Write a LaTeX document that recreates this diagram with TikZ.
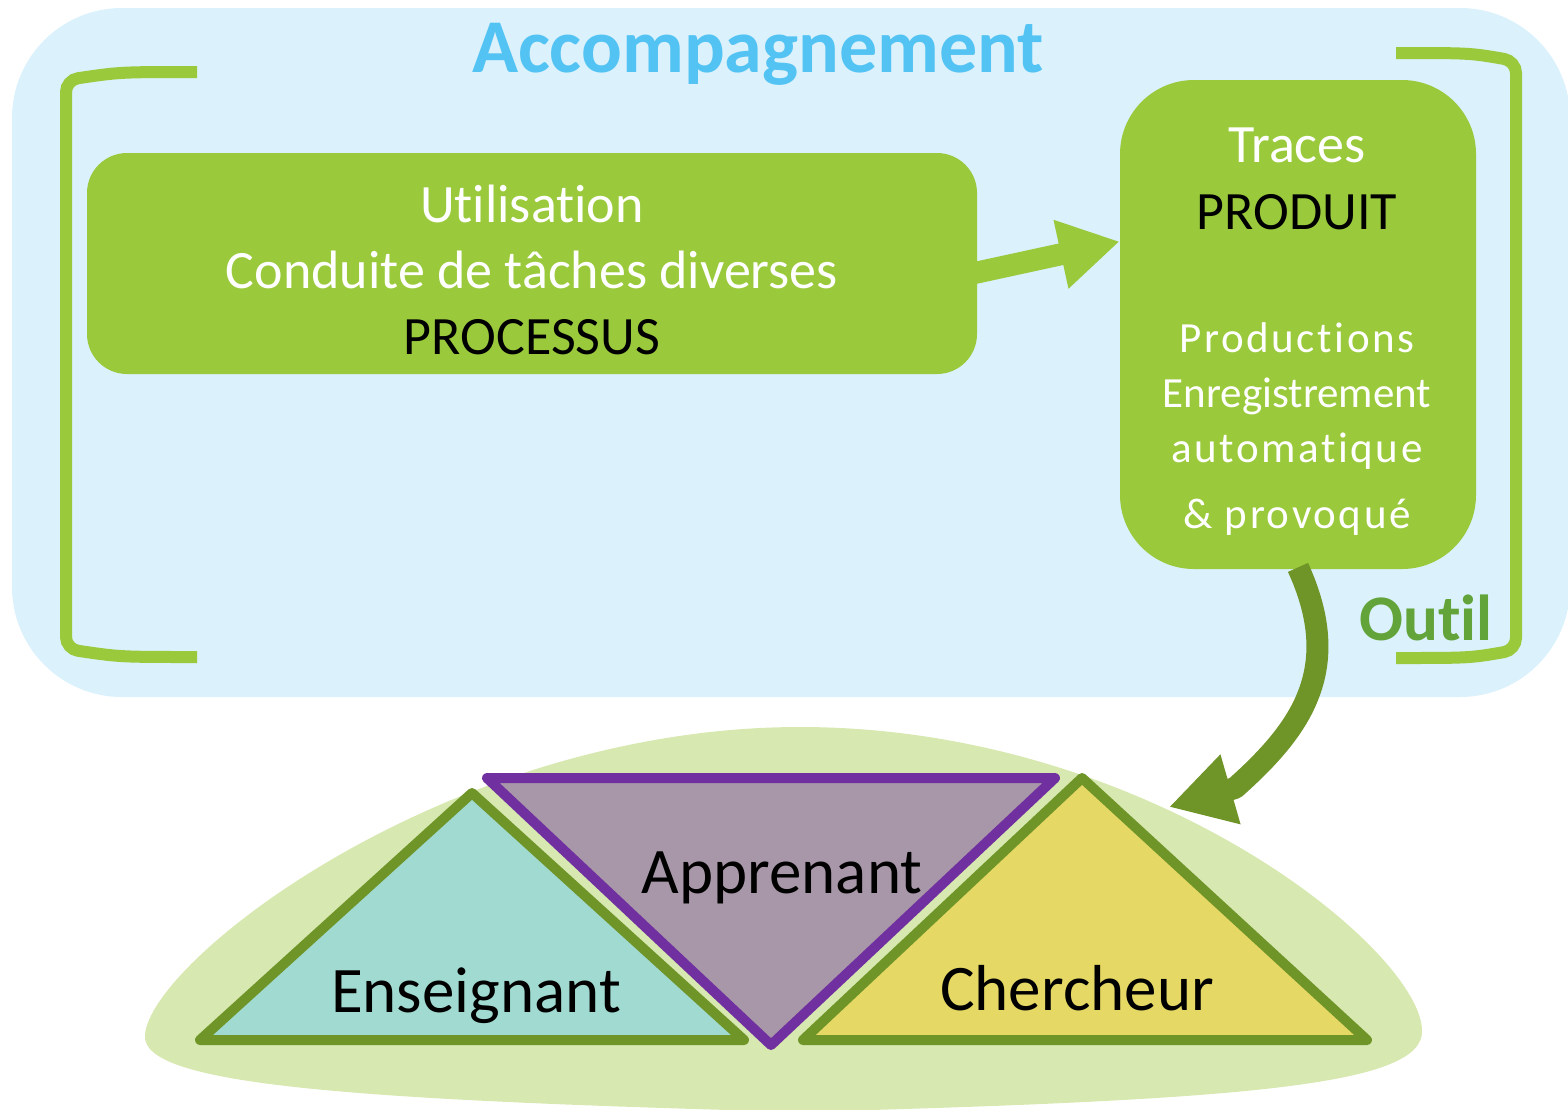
\documentclass[tikz,border=0pt]{standalone}
\usepackage{fontspec}
\setmainfont{Carlito}[Ligatures=NoCommon]
\usetikzlibrary{arrows.meta,calc}
\definecolor{leaf}{HTML}{9ACA3C}
\definecolor{moss}{HTML}{6F9428}
\definecolor{skyback}{HTML}{DBF1FC}
\definecolor{skytitle}{HTML}{53C3F3}
\definecolor{outilgreen}{HTML}{62A43A}
\definecolor{hill}{HTML}{D7E8B0}
\definecolor{lagoon}{HTML}{A0DAD0}
\definecolor{mauve}{HTML}{A897A8}
\definecolor{plum}{HTML}{7030A0}
\definecolor{sand}{HTML}{E5D864}
\begin{document}
\begin{tikzpicture}[x=0.5pt,y=-0.5pt,
  box/.style={fill=leaf, rounded corners=#1},
  bracket/.style={draw=leaf, line width=6pt, rounded corners=6pt},
  tri/.style={draw=moss, line width=5pt, line join=round},
  lab/.style={anchor=base, font=\fontsize{32.5}{39}\selectfont},
  txt/.style={text=white, align=center}]
  \useasboundingbox (0,0) rectangle (1568,1109);
  % fonds
  \fill[skyback, rounded corners=55pt] (12,8) rectangle (1570,697);
  \fill[hill] (800,727) .. controls (1150,727) and (1420,950) .. (1422,1030)
    .. controls (1425,1085) and (1250,1100) .. (800,1112)
    .. controls (350,1100) and (140,1085) .. (145,1035)
    .. controls (150,960) and (450,727) .. (800,727);
  \draw[bracket] (197,72) .. controls (120,72) .. (66,80) -- (66,649) .. controls (120,657) .. (197,657);
  \draw[bracket] (1396,53) .. controls (1470,53) .. (1516,61) -- (1516,650) .. controls (1470,658) .. (1396,658);
  \node[anchor=base, text=skytitle, font=\bfseries\fontsize{38}{46}\selectfont] (accomp) at (758,72) {Accompagnement};
  \node[anchor=base, text=outilgreen, font=\bfseries\fontsize{32.5}{39}\selectfont] (outil) at (1426,640) {Outil};
  % boites
  \node[box=20pt, minimum width=445pt, minimum height=110.5pt] (proc) at (532,263.5) {};
  \node[box=37pt, minimum width=178pt, minimum height=244.5pt] (prod) at (1298,324.5) {};
  \node[txt, font=\fontsize{27}{33}\selectfont] (proctext) at (532,270)
    {Utilisation\\Conduite de tâches diverses\\\textcolor{black}{PROCESSUS}};
  \node[txt, font=\fontsize{27}{33.5}\selectfont] (prodtext) at (1297,179)
    {Traces\\\textcolor{black}{PRODUIT}};
  \node[txt, font=\fontsize{21.5}{27.5}\selectfont] (traces) at (1297,429)
    {{\addfontfeature{LetterSpace=6}Productions}\\Enregistrement\\
     {\addfontfeature{LetterSpace=6}automatique}\\[5.5pt]
     {\addfontfeature{LetterSpace=6}\& provoqué}};
  % triangles
  \coordinate (hit) at (1169,807);
  \filldraw[tri, fill=lagoon] (472,793) -- (744,1040) -- (200,1040) -- cycle;
  \filldraw[tri, fill=mauve, draw=plum] (487,778) -- (1055,778) -- (771,1045) -- cycle;
  \filldraw[tri, fill=sand] (1082,778) -- (1367,1040) -- (803,1040) -- cycle;
  \node[lab] (appr) at (782,893) {Apprenant};
  \node[lab] (ens) at (476,1012) {Enseignant};
  \node[lab] (cherch) at (1077,1010) {Chercheur};
  % fleches
  \draw[leaf, line width=11pt, -{Triangle[length=30pt,width=33pt]}]
    ($(proc.east)+(-5,10)$) -- ($(prod.west)+(0,-83)$);
  \draw[moss, line width=11pt, line join=round, -{Triangle[length=32pt,width=34pt]}]
    ($(prod.south)+(0,-2)$) .. controls (1345,670) and (1300,730) .. (1235,788) -- (hit);
\end{tikzpicture}
\end{document}
